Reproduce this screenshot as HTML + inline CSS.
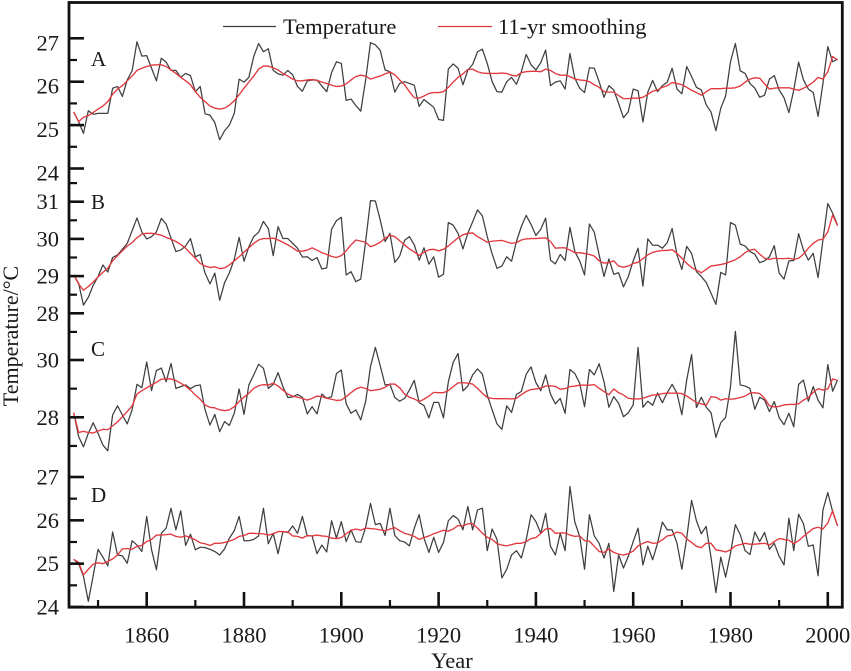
<!DOCTYPE html>
<html lang="en">
<head>
<meta charset="utf-8">
<title>Temperature and 11-yr smoothing, 1845–2002</title>
<style>
  html, body { margin: 0; padding: 0; background: #fff; }
  svg { display: block; }
  text { font-family: "Liberation Serif", "Times New Roman", serif; fill: #1a1a1a; }
</style>
</head>
<body>
<svg id="chart" xmlns="http://www.w3.org/2000/svg" width="851" height="671" viewBox="0 0 851 671"></svg>
<script>
const startYear = 1845;
const xTickYears = [1850, 1860, 1870, 1880, 1890, 1900, 1910, 1920, 1930, 1940, 1950, 1960, 1970, 1980, 1990, 2000];
const xTickLabels = [1860, 1880, 1900, 1920, 1940, 1960, 1980, 2000];

const tempA = [25.30,25.08,24.81,25.33,25.25,
25.27,25.27,25.27,25.85,25.89,25.66,26.04,26.25,26.92,26.59,
26.60,26.31,26.02,26.54,26.45,26.26,26.26,26.10,26.19,26.14,
25.77,25.89,25.26,25.23,25.06,24.66,24.87,25.00,25.27,26.06,
25.99,26.10,26.58,26.88,26.69,26.76,26.26,26.18,26.15,26.26,
26.16,25.89,25.78,26.02,26.04,26.04,25.90,25.77,26.21,26.46,
26.42,25.57,25.60,25.45,25.32,26.04,26.90,26.85,26.72,26.27,
26.23,25.76,25.96,26.00,25.96,25.92,25.43,25.59,25.50,25.41,
25.13,25.11,26.29,26.41,26.31,25.93,26.26,26.40,26.69,26.75,
26.42,26.00,25.77,25.76,26.00,26.10,25.94,26.23,26.63,26.39,
26.27,26.44,26.73,25.91,25.99,26.02,25.83,26.65,26.08,25.85,
25.75,26.32,26.31,26.00,25.64,25.91,25.81,25.50,25.17,25.31,
25.83,25.79,25.07,25.76,26.03,25.77,25.91,25.99,26.31,25.83,
25.72,26.35,26.12,25.87,25.81,25.47,25.30,24.87,25.39,25.67,
26.46,26.88,26.25,26.19,25.96,25.85,25.64,25.69,26.06,26.14,
25.81,25.63,25.29,25.81,26.45,26.04,25.83,25.75,25.20,25.96,
26.81,26.46,26.52];

const smoothA = [25.30,25.08,25.18,25.22,25.29,
25.37,25.44,25.54,25.71,25.83,25.91,26.02,26.13,26.26,26.31,
26.35,26.38,26.39,26.39,26.35,26.27,26.19,26.10,26.02,25.93,
25.77,25.64,25.54,25.44,25.39,25.37,25.39,25.46,25.56,25.70,
25.85,25.99,26.13,26.29,26.36,26.36,26.32,26.27,26.19,26.13,
26.06,26.02,26.02,26.04,26.05,26.03,25.99,25.96,25.92,25.89,
25.90,25.95,26.04,26.12,26.15,26.13,26.06,26.10,26.13,26.18,
26.22,26.16,26.04,25.93,25.77,25.63,25.62,25.67,25.73,25.75,
25.75,25.77,25.87,25.99,26.10,26.18,26.28,26.29,26.23,26.20,
26.19,26.19,26.19,26.20,26.19,26.15,26.13,26.21,26.23,26.24,
26.24,26.23,26.29,26.26,26.19,26.15,26.15,26.12,26.06,26.04,
26.03,26.00,25.93,25.87,25.77,25.76,25.76,25.68,25.61,25.61,
25.62,25.62,25.64,25.71,25.78,25.81,25.87,25.91,25.98,25.96,
25.93,25.87,25.80,25.75,25.69,25.77,25.84,25.84,25.84,25.85,
25.85,25.86,25.90,25.99,26.06,26.09,26.08,25.95,25.83,25.85,
25.86,25.86,25.86,25.83,25.80,25.85,25.91,25.99,26.10,26.06,
26.23,26.58,26.50];

const tempB = [29.03,28.81,28.22,28.43,28.75,
28.99,29.30,29.11,29.50,29.57,29.72,29.88,30.22,30.56,30.19,
30.00,30.06,30.19,30.55,30.40,30.02,29.66,29.70,29.81,30.01,
29.52,29.58,29.08,28.79,29.08,28.35,28.82,29.09,29.45,30.04,
29.40,29.79,30.06,30.18,30.47,30.28,29.55,30.33,30.01,30.01,
29.88,29.75,29.51,29.52,29.42,29.50,29.19,29.22,30.26,30.49,
30.58,29.03,29.12,28.85,28.92,29.93,31.03,31.02,30.51,29.93,
30.15,29.37,29.54,29.96,30.06,29.84,29.43,29.76,29.32,29.52,
28.97,29.05,30.44,30.37,30.15,29.73,30.15,30.46,30.78,30.62,
30.06,29.60,29.21,29.27,29.52,29.40,29.93,30.33,30.63,30.39,
30.09,30.26,30.56,29.43,29.33,29.58,29.42,30.31,29.66,29.41,
29.03,30.40,30.18,29.57,28.99,29.46,29.05,29.09,28.71,28.99,
29.41,29.75,28.73,30.00,29.83,29.83,29.75,29.90,30.28,29.57,
29.18,29.80,29.61,29.12,28.99,28.83,28.54,28.24,29.10,29.03,
30.44,30.37,29.86,29.81,29.66,29.59,29.36,29.41,29.52,29.82,
29.08,28.92,29.41,29.42,30.14,29.70,29.43,29.61,28.96,29.97,
30.95,30.69,30.37];

const smoothB = [29.03,28.79,28.62,28.72,28.84,
28.98,29.10,29.21,29.41,29.55,29.68,29.81,29.90,30.03,30.13,
30.15,30.15,30.13,30.10,30.04,29.99,29.93,29.85,29.75,29.61,
29.48,29.34,29.27,29.23,29.25,29.20,29.22,29.30,29.41,29.52,
29.64,29.76,29.88,29.97,30.01,30.01,30.02,29.97,29.91,29.84,
29.76,29.67,29.67,29.70,29.76,29.70,29.63,29.58,29.53,29.50,
29.55,29.68,29.84,29.97,29.94,29.91,29.79,29.84,29.91,30.02,
30.10,30.06,29.95,29.84,29.73,29.65,29.56,29.64,29.71,29.72,
29.68,29.72,29.81,29.92,30.03,30.11,30.15,30.16,30.06,29.99,
29.91,29.94,29.95,29.96,29.92,29.88,29.90,29.97,30.00,30.01,
30.01,30.02,30.03,29.93,29.75,29.76,29.76,29.70,29.63,29.63,
29.61,29.58,29.54,29.41,29.35,29.36,29.41,29.27,29.24,29.27,
29.34,29.37,29.47,29.57,29.64,29.67,29.69,29.69,29.71,29.61,
29.48,29.34,29.23,29.16,29.09,29.18,29.27,29.29,29.31,29.34,
29.39,29.44,29.52,29.63,29.70,29.72,29.59,29.48,29.45,29.48,
29.47,29.47,29.48,29.45,29.48,29.59,29.75,29.88,29.97,29.99,
30.19,30.64,30.36];

const tempC = [28.16,27.33,26.97,27.44,27.81,
27.44,27.03,26.83,28.08,28.40,28.08,27.77,28.26,29.15,29.03,
29.93,28.93,29.63,29.72,29.24,29.88,29.01,29.07,29.13,29.00,
29.10,29.13,28.26,27.73,28.10,27.50,27.85,27.72,28.14,28.99,
28.10,29.13,29.48,29.85,29.71,29.01,29.15,29.56,29.07,28.69,
28.71,28.80,28.70,28.12,28.37,28.12,28.81,28.66,28.72,29.53,
29.65,28.47,28.14,28.26,27.91,28.55,29.77,30.44,29.80,29.13,
29.15,28.69,28.56,28.66,28.95,29.29,28.51,28.41,27.98,28.52,
28.52,27.98,29.24,29.92,30.23,28.92,29.09,29.48,29.69,29.51,
28.78,28.26,27.77,27.58,28.40,28.17,28.80,28.90,29.50,29.76,
29.21,28.93,29.48,28.81,28.47,28.66,28.14,29.67,29.53,29.19,
28.37,29.67,29.48,29.87,29.24,28.35,28.72,28.49,28.02,28.16,
28.43,30.44,28.35,28.56,28.42,28.85,28.51,28.86,29.15,28.84,
28.09,29.30,30.19,28.34,28.70,28.35,28.16,27.30,27.81,28.00,
29.07,31.00,29.13,29.09,29.01,28.28,28.70,28.60,28.20,28.55,
27.99,27.74,28.14,27.67,29.15,29.30,28.56,29.07,28.60,28.33,
29.84,28.91,29.30];

const smoothC = [28.16,27.47,27.51,27.47,27.45,
27.52,27.58,27.57,27.70,27.84,28.02,28.20,28.40,28.81,28.93,
29.03,29.13,29.22,29.33,29.34,29.34,29.28,29.19,29.09,28.95,
28.78,28.63,28.43,28.35,28.33,28.26,28.23,28.26,28.37,28.55,
28.70,28.84,29.01,29.10,29.14,29.13,29.19,29.09,28.95,28.81,
28.74,28.70,28.66,28.60,28.66,28.74,28.72,28.66,28.63,28.59,
28.60,28.72,28.86,28.99,29.05,29.01,28.93,28.95,28.98,29.05,
29.16,29.16,29.03,28.81,28.70,28.64,28.55,28.63,28.74,28.87,
28.86,28.86,28.93,29.07,29.20,29.21,29.19,29.16,29.01,28.84,
28.69,28.66,28.65,28.65,28.65,28.64,28.66,28.79,28.90,28.97,
28.99,29.02,29.09,29.10,29.08,28.98,29.00,29.07,29.09,29.12,
29.12,29.12,29.14,29.01,28.90,28.79,28.99,28.86,28.78,28.66,
28.64,28.64,28.66,28.72,28.78,28.78,28.83,28.84,28.84,28.84,
28.83,28.74,28.63,28.51,28.47,28.42,28.72,28.70,28.60,28.65,
28.63,28.65,28.69,28.74,28.84,28.86,28.83,28.66,28.40,28.36,
28.38,28.43,28.45,28.45,28.47,28.60,28.69,28.87,29.00,28.95,
28.99,29.34,29.29];

const tempD = [25.10,25.00,24.71,24.13,24.72,
25.33,25.15,24.95,25.73,25.20,25.18,25.01,25.53,25.43,25.28,
26.09,25.32,24.86,25.70,25.82,26.28,25.78,26.22,25.42,25.68,
25.32,25.38,25.37,25.33,25.28,25.20,25.34,25.59,25.76,26.09,
25.53,25.53,25.56,25.64,26.28,25.46,25.70,25.23,25.74,25.72,
25.87,25.70,26.09,25.64,25.64,25.23,25.43,25.27,25.99,25.59,
25.97,25.51,25.78,25.51,25.49,25.84,26.39,25.90,25.93,25.65,
26.28,25.65,25.53,25.50,25.41,25.82,26.13,25.59,25.26,25.61,
25.26,25.49,25.99,26.11,26.03,25.78,26.32,25.78,26.24,26.28,
25.30,25.80,25.56,24.67,24.87,25.20,25.30,25.13,25.55,26.13,
25.97,25.70,26.16,25.40,25.20,25.70,25.30,26.78,25.96,25.63,
24.87,26.13,25.64,25.47,25.13,25.47,24.36,25.20,24.90,25.17,
25.51,25.82,24.97,25.40,25.09,25.47,25.96,25.78,25.78,25.47,
24.87,25.59,26.46,25.99,25.69,25.86,25.14,24.33,25.15,24.69,
25.24,25.90,25.67,25.30,25.21,25.73,25.51,25.72,25.33,25.47,
25.17,24.97,26.05,25.30,26.14,25.92,25.40,25.43,24.72,26.24,
26.64,26.20,25.87];

const smoothD = [25.10,25.03,24.74,24.87,24.99,
25.02,25.00,25.05,25.11,25.20,25.34,25.35,25.33,25.40,25.42,
25.51,25.56,25.66,25.66,25.67,25.68,25.63,25.61,25.64,25.60,
25.55,25.48,25.46,25.42,25.47,25.47,25.49,25.52,25.56,25.63,
25.65,25.70,25.70,25.69,25.69,25.66,25.69,25.74,25.74,25.73,
25.64,25.63,25.59,25.65,25.64,25.66,25.64,25.63,25.59,25.58,
25.60,25.69,25.77,25.80,25.77,25.82,25.81,25.80,25.78,25.76,
25.80,25.83,25.76,25.70,25.67,25.63,25.56,25.60,25.64,25.69,
25.73,25.77,25.75,25.80,25.88,25.87,25.92,25.92,25.82,25.70,
25.61,25.56,25.46,25.43,25.41,25.44,25.47,25.47,25.51,25.58,
25.60,25.70,25.80,25.81,25.70,25.71,25.71,25.66,25.63,25.64,
25.53,25.52,25.40,25.28,25.26,25.34,25.26,25.22,25.20,25.23,
25.29,25.41,25.47,25.51,25.47,25.48,25.55,25.64,25.66,25.73,
25.70,25.57,25.49,25.40,25.37,25.47,25.47,25.32,25.30,25.27,
25.32,25.41,25.44,25.47,25.45,25.45,25.46,25.47,25.43,25.51,
25.58,25.56,25.54,25.46,25.53,25.63,25.72,25.81,25.84,25.80,
25.94,26.22,25.87];

const majorTicksA = [27, 26, 25, 24];
const minorTicksA = [26.5, 25.5, 24.5];
const majorTicksB = [31, 30, 29, 28];
const minorTicksB = [31.5, 30.5, 29.5, 28.5, 27.5];
const majorTicksC = [30, 28];
const minorTicksC = [29, 27];
const majorTicksD = [27, 26, 25, 24];
const minorTicksD = [26.5, 25.5, 24.5];

const NS = 'http://www.w3.org/2000/svg';
const svg = document.getElementById('chart');
const INK = '#111111';

function xScale(year) { return 146.7 + (year - 1860) * 4.865; }
function linearAxis(refValue, refPixel, pixelsPerUnit) {
  return function (v) { return refPixel + (refValue - v) * pixelsPerUnit; };
}
const yA = linearAxis(27, 38.3, 43.4);
const yB = linearAxis(31, 201.7, 37.2);
const yC = linearAxis(30, 360, 28.65);
const yD = linearAxis(27, 477, 43.33);

function tag(name, attrs, text) {
  const el = document.createElementNS(NS, name);
  for (const k in attrs) el.setAttribute(k, attrs[k]);
  if (text !== undefined) el.textContent = text;
  svg.appendChild(el);
  return el;
}

function drawSeries(values, yScale, color, width, name) {
  const pts = values.map(function (v, i) {
    return xScale(startYear + i).toFixed(2) + ',' + yScale(v).toFixed(2);
  }).join(' ');
  const line = tag('polyline', { points: pts, fill: 'none', stroke: color, 'stroke-width': width, 'stroke-linejoin': 'round' });
  
  
}

function drawYTicks(majors, minors, yScale, labelOffset, panel) {
  majors.forEach(function (v) {
    const y = yScale(v);
    const t = tag('line', { x1: 69, x2: 84, y1: y, y2: y, stroke: INK, 'stroke-width': 2.6 });
    
    
    const lab = tag('text', { x: 59, y: y + labelOffset, 'font-size': 22.5, 'text-anchor': 'end' }, String(v));
    
    
  });
  minors.forEach(function (v) {
    const y = yScale(v);
    const t = tag('line', { x1: 69, x2: 77, y1: y, y2: y, stroke: INK, 'stroke-width': 2.2 });
    
    
  });
}

// series (temperature below smoothing)
drawSeries(tempA, yA, '#3f3f3f', 1.25, 'temperature-line-a');
drawSeries(smoothA, yA, '#e0393f', 1.35, 'smoothing-line-a');
drawSeries(tempB, yB, '#3f3f3f', 1.25, 'temperature-line-b');
drawSeries(smoothB, yB, '#e0393f', 1.35, 'smoothing-line-b');
drawSeries(tempC, yC, '#3f3f3f', 1.25, 'temperature-line-c');
drawSeries(smoothC, yC, '#e0393f', 1.35, 'smoothing-line-c');
drawSeries(tempD, yD, '#3f3f3f', 1.25, 'temperature-line-d');
drawSeries(smoothD, yD, '#e0393f', 1.35, 'smoothing-line-d');

// frame
const frame = tag('rect', { x: 69, y: 2.5, width: 773.3, height: 604.7, fill: 'none', stroke: INK, 'stroke-width': 2.8 });



// y ticks
drawYTicks(majorTicksA, minorTicksA, yA, 12, 'a');
drawYTicks(majorTicksB, minorTicksB, yB, 7.5, 'b');
drawYTicks(majorTicksC, minorTicksC, yC, 7.5, 'c');
drawYTicks(majorTicksD, minorTicksD, yD, 7.5, 'd');

// x ticks
xTickYears.forEach(function (yr) {
  const major = xTickLabels.indexOf(yr) >= 0;
  const x = xScale(yr);
  const t = tag('line', { x1: x, x2: x, y1: 607, y2: major ? 592 : 600, stroke: INK, 'stroke-width': major ? 2.6 : 2.2 });
  
  
});
xTickLabels.forEach(function (yr) {
  const lab = tag('text', { x: xScale(yr), y: 642.5, 'font-size': 22.5, 'text-anchor': 'middle' }, String(yr));
  
  
});

// panel letters
const letterA = tag('text', { x: 91, y: 66, 'font-size': 21 }, 'A');


const letterB = tag('text', { x: 91, y: 209, 'font-size': 21 }, 'B');


const letterC = tag('text', { x: 91, y: 356, 'font-size': 21 }, 'C');


const letterD = tag('text', { x: 91, y: 502, 'font-size': 21 }, 'D');



// axis titles
const yTitle = tag('text', { transform: 'translate(18 336) rotate(-90)', 'font-size': 22, 'text-anchor': 'middle' }, 'Temperature/°C');


const xTitle = tag('text', { x: 452, y: 668, 'font-size': 22.5, 'text-anchor': 'middle' }, 'Year');



// legend
const legLine1 = tag('line', { x1: 223, x2: 276, y1: 26.5, y2: 26.5, stroke: '#3f3f3f', 'stroke-width': 1.25 });


const legText1 = tag('text', { x: 283, y: 34, 'font-size': 22.5 }, 'Temperature');


const legLine2 = tag('line', { x1: 438, x2: 492, y1: 26.5, y2: 26.5, stroke: '#e0393f', 'stroke-width': 1.35 });


const legText2 = tag('text', { x: 498, y: 34, 'font-size': 22.5 }, '11-yr smoothing');


</script>
</body>
</html>
